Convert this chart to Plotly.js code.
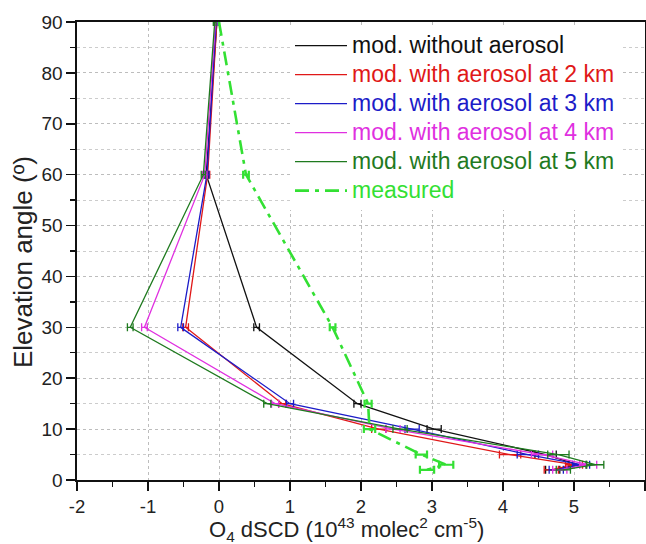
<!DOCTYPE html>
<html>
<head>
<meta charset="utf-8">
<script src="https://cdn.plot.ly/plotly-3.0.1.min.js"></script>
<style>html,body{margin:0;padding:0;background:#fff;}#chart{width:646px;height:544px;}</style>
</head>
<body>
<div id="chart"></div>
<script>
// Elevation angles (degrees)
const angles = [90, 60, 30, 15, 10, 5, 3, 2];

// O4 dSCD (10^43 molec^2 cm^-5)
const noAerosol   = [-0.03, -0.18, 0.53, 1.95, 3.03, 4.60, 5.05, 4.70];
const aerosol2km  = [-0.03, -0.16, -0.47, 0.89, 2.25, 4.10, 5.00, 4.68];
const aerosol3km  = [-0.04, -0.17, -0.54, 1.00, 2.72, 4.35, 5.10, 4.75];
const aerosol4km  = [-0.05, -0.20, -1.05, 0.79, 2.45, 4.55, 5.20, 4.80];
const aerosol5km  = [-0.06, -0.22, -1.25, 0.68, 2.55, 4.78, 5.30, 4.85];
const measured    = [0.00, 0.38, 1.60, 2.10, 2.12, 2.85, 3.20, 2.93];

// error bars (half-widths)
const modelErr    = [0.02, 0.03, 0.04, 0.05, 0.10, 0.15, 0.12, 0.10];
const measuredErr = [0.00, 0.04, 0.04, 0.05, 0.08, 0.08, 0.10, 0.10];

// axis ticks and titles
const xTickVals  = [-2, -1, 0, 1, 2, 3, 4, 5, 6];
const xTickText  = ['-2', '-1', '0', '1', '2', '3', '4', '5', '6'];
const xTitle = 'O<sub>4</sub> dSCD (10<sup>43</sup> molec<sup>2</sup> cm<sup>-5</sup>)';
const yTitle = 'Elevation angle (º)';

const names = [
  'mod. without aerosol',
  'mod. with aerosol at 2 km',
  'mod. with aerosol at 3 km',
  'mod. with aerosol at 4 km',
  'mod. with aerosol at 5 km',
  'measured'
];
const colors = ['#111111', '#e01818', '#1c1cc8', '#e030e0', '#1f7a1f', '#33e033'];
const series = [noAerosol, aerosol2km, aerosol3km, aerosol4km, aerosol5km];

function legendName(i) {
  return '<span style="color:' + colors[i] + ';font-size:23px">' + names[i] + '</span>';
}

const traces = series.map((vals, i) => ({
  type: 'scatter', mode: 'lines',
  x: vals, y: angles,
  name: legendName(i),
  line: {color: colors[i], width: 1.3},
  error_x: {type: 'data', array: modelErr, visible: true, color: colors[i], thickness: 1.3, width: 4}
}));
traces.push({
  type: 'scatter', mode: 'lines',
  x: measured, y: angles,
  name: legendName(5),
  line: {color: colors[5], width: 2.6, dash: '14px,6px,4px,6px'},
  error_x: {type: 'data', array: measuredErr, visible: true, color: colors[5], thickness: 2.2, width: 4}
});

const layout = {
  width: 646, height: 544,
  margin: {l: 77, r: 1, t: 22, b: 64},
  paper_bgcolor: '#fff', plot_bgcolor: '#fff',
  font: {family: 'Liberation Sans, Arial, sans-serif', size: 18, color: '#222'},
  showlegend: true,
  legend: {
    x: 0.375, y: 0.991, xanchor: 'left', yanchor: 'top',
    bgcolor: 'rgba(255,255,255,1)', borderwidth: 0,
    font: {size: 20}, tracegroupgap: 0, itemwidth: 52
  },
  xaxis: {
    range: [-2, 6], tickmode: 'array', tickvals: xTickVals, ticktext: xTickText,
    ticks: 'outside', ticklen: 9, tickwidth: 1.5, tickcolor: '#111',
    showline: true, linecolor: '#111', linewidth: 1.6, mirror: true,
    showgrid: true, gridcolor: '#bdbdbd', griddash: 'dot', gridwidth: 1,
    zeroline: false,
    minor: {tickmode: 'linear', dtick: 0.5, tick0: 0, ticks: 'outside', ticklen: 5, tickwidth: 1.3, tickcolor: '#111', showgrid: false},
    tickfont: {size: 18.5}
  },
  yaxis: {
    range: [0, 90], dtick: 10, tick0: 0,
    ticks: 'outside', ticklen: 9, tickwidth: 1.5, tickcolor: '#111',
    showline: true, linecolor: '#111', linewidth: 1.6, mirror: true,
    showgrid: true, gridcolor: '#bdbdbd', griddash: 'dot', gridwidth: 1,
    zeroline: false,
    minor: {dtick: 5, ticks: 'outside', ticklen: 5, tickwidth: 1.3, tickcolor: '#111', showgrid: true, gridcolor: '#cccccc', griddash: 'dot', gridwidth: 1},
    tickfont: {size: 19}
  },
  annotations: [
    {text: xTitle, xref: 'paper', yref: 'paper', x: 0.474, y: -0.108,
     xanchor: 'center', yanchor: 'middle', showarrow: false, font: {size: 22, color: '#222'}},
    {text: yTitle, xref: 'paper', yref: 'paper', x: -0.095, y: 0.476, textangle: -90,
     xanchor: 'center', yanchor: 'middle', showarrow: false, font: {size: 26, color: '#222'}}
  ]
};

Plotly.newPlot('chart', traces, layout, {displayModeBar: false, staticPlot: true});
</script>
</body>
</html>
